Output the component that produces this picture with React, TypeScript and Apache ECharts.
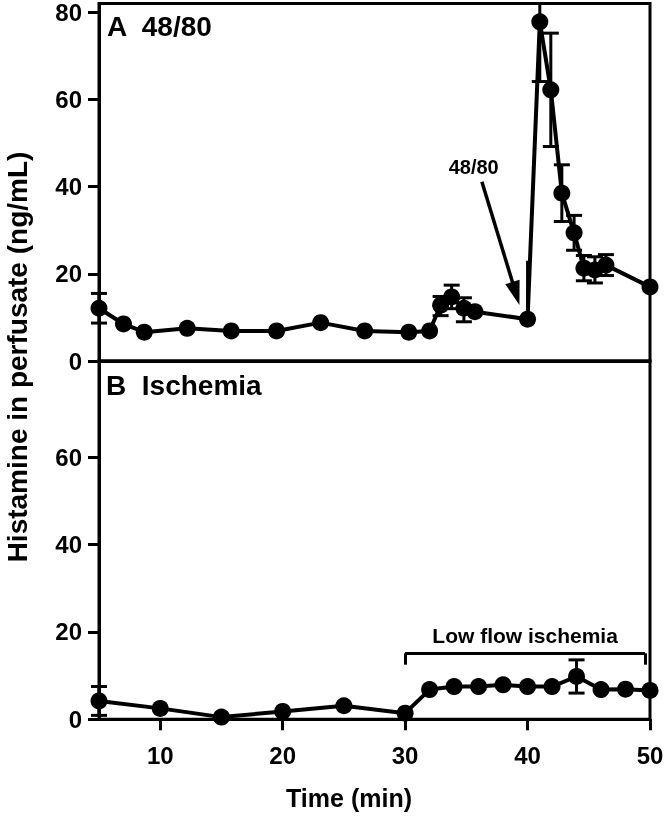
import React, { useEffect, useRef } from "react";
import * as echarts from "echarts";

// Panel A: compound 48/80
const topTimes = [5, 7, 8.7, 12.2, 15.8, 19.5, 23.1, 26.7, 30.3, 32, 32.9, 33.8, 34.8, 35.7, 40, 41, 41.9, 42.8, 43.8, 44.6, 45.5, 46.4, 50];
const topValues = [12.1, 8.5, 6.6, 7.5, 6.9, 6.9, 8.8, 6.9, 6.6, 6.9, 12.8, 14.7, 12.1, 11.3, 9.6, 77.8, 62.2, 38.5, 29.4, 21.3, 20.9, 22, 17];
const topErrUp = [3.4, 0, 0, 0, 0, 0, 0, 0, 0, 0, 2.0, 2.7, 2.4, 0, 13.4, 13.7, 13, 6.5, 4, 2.9, 3, 2.4, 0];
const topErrDown = [3.4, 0, 0, 0, 0, 0, 0, 0, 0, 0, 2.4, 2.7, 3.1, 0, 0, 13.7, 13, 6.5, 4, 2.9, 3, 2.4, 0];
const topUncappedTimes = [40];

// Panel B: ischemia
const bottomTimes = [5, 10, 15, 20, 25, 30, 32, 34, 36, 38, 40, 42, 44, 46, 48, 50];
const bottomValues = [4.2, 2.5, 0.5, 1.8, 3.1, 1.4, 6.8, 7.5, 7.5, 7.9, 7.5, 7.5, 9.8, 6.8, 6.9, 6.6];
const bottomErr = [3.3, 0, 0, 0, 0, 0, 0, 0, 0, 0, 0, 0, 3.8, 0, 0, 0];

const xTicks = [10, 20, 30, 40, 50];
const topYTicks = [0, 20, 40, 60, 80];
const bottomYTicks = [0, 20, 40, 60];

const FONT = "'Liberation Sans', Arial, Helvetica, sans-serif";

function errorBarSeries(xAxisIndex: number, yAxisIndex: number, data: number[][]) {
  return {
    type: "custom",
    xAxisIndex,
    yAxisIndex,
    silent: true,
    z: 1,
    encode: { x: 0, y: 1 },
    data,
    renderItem: (params: any, api: any) => {
      const x = api.value(0);
      const y = api.value(1);
      const up = api.value(2);
      const down = api.value(3);
      const cap = api.value(4);
      const cs = params.coordSys;
      const children: any[] = [];
      if (!up && !down) return { type: "group", children };
      const top = api.coord([x, y + up]);
      const bot = api.coord([x, y - down]);
      const ty = Math.max(top[1], cs.y);
      const by = Math.min(bot[1], cs.y + cs.height);
      const style = { stroke: "#000", lineWidth: 3 };
      children.push({ type: "line", shape: { x1: top[0], y1: ty, x2: top[0], y2: by }, style });
      const hw = 8;
      if (cap) {
        if (up && top[1] >= cs.y) children.push({ type: "line", shape: { x1: top[0] - hw, y1: ty, x2: top[0] + hw, y2: ty }, style });
        if (down && bot[1] <= cs.y + cs.height) children.push({ type: "line", shape: { x1: bot[0] - hw, y1: by, x2: bot[0] + hw, y2: by }, style });
      }
      return { type: "group", children };
    },
  };
}

export default function App() {
  const ref = useRef<HTMLDivElement>(null);
  useEffect(() => {
    if (!ref.current) return;
    const chart = echarts.init(ref.current, null, { renderer: "svg" });
    const labelStyle = { color: "#000", fontSize: 24, fontWeight: "bold", fontFamily: FONT };
    const gridBase = { show: true, borderColor: "#000", borderWidth: 3, backgroundColor: "transparent", containLabel: false };
    const yBase = (ticks: number[]) => ({
      type: "value",
      min: 0,
      max: 82,
      interval: 20,
      axisLine: { show: true, lineStyle: { color: "#000", width: 3 } },
      axisTick: { show: true, length: 11, customValues: ticks, lineStyle: { color: "#000", width: 3 } },
      axisLabel: { ...labelStyle, margin: 17, customValues: ticks },
      splitLine: { show: false },
    });

    const topLine = topTimes.map((t, i) => [t, topValues[i]]);
    const topErr = topTimes.map((t, i) => [t, topValues[i], topErrUp[i], topErrDown[i], topUncappedTimes.includes(t) ? 0 : 1]);
    const bottomLine = bottomTimes.map((t, i) => [t, bottomValues[i]]);
    const bottomErrData = bottomTimes.map((t, i) => [t, bottomValues[i], bottomErr[i], bottomErr[i], 1]);

    const lineStyle = { color: "#000", width: 4 };
    const itemStyle = { color: "#000" };

    chart.setOption({
      animation: false,
      grid: [
        { ...gridBase, left: 99, top: 3.5, width: 551, height: 357.5 },
        { ...gridBase, left: 99, top: 361, width: 551, height: 358.3 },
      ],
      xAxis: [
        {
          type: "value", gridIndex: 0, min: 5, max: 50,
          axisLine: { show: true, lineStyle: { color: "#000", width: 3 } },
          axisTick: { show: false }, axisLabel: { show: false }, splitLine: { show: false },
        },
        {
          type: "value", gridIndex: 1, min: 5, max: 50,
          axisLine: { show: true, lineStyle: { color: "#000", width: 3 } },
          axisTick: { show: true, length: 11, customValues: xTicks, lineStyle: { color: "#000", width: 3 } },
          axisLabel: { ...labelStyle, margin: 24, customValues: xTicks },
          splitLine: { show: false },
        },
      ],
      yAxis: [
        { ...yBase(topYTicks), gridIndex: 0 },
        { ...yBase(bottomYTicks), gridIndex: 1 },
      ],
      graphic: [
        {
          type: "text", left: 107, top: 12, silent: true,
          style: { text: "A  48/80", fill: "#000", font: `bold 28px ${FONT}` },
        },
        {
          type: "text", left: 106, top: 371, silent: true,
          style: { text: "B  Ischemia", fill: "#000", font: `bold 28px ${FONT}` },
        },
        {
          type: "text", x: 349, y: 798, silent: true,
          style: { text: "Time (min)", fill: "#000", font: `bold 25px ${FONT}`, textAlign: "center", textVerticalAlign: "middle" },
        },
        {
          type: "text", x: 17, y: 357, rotation: Math.PI / 2, silent: true,
          style: { text: "Histamine in perfusate (ng/mL)", fill: "#000", font: `bold 28px ${FONT}`, textAlign: "center", textVerticalAlign: "middle" },
        },
      ],
      series: [
        errorBarSeries(0, 0, topErr),
        errorBarSeries(1, 1, bottomErrData),
        {
          type: "line", xAxisIndex: 0, yAxisIndex: 0, data: topLine, clip: false, silent: true,
          symbol: "circle", symbolSize: 17, lineStyle, itemStyle, z: 3,
          markLine: {
            silent: true, animation: false, symbol: ["none", "triangle"],
            lineStyle: { color: "#000", width: 3.5, type: "solid" },
            label: { show: false },
            data: [[
              { coord: [36.27, 41.1], symbol: "none" },
              { coord: [39.05, 15.5], symbol: "triangle", symbolSize: [15, 24] },
            ]],
          },
          markPoint: {
            silent: true, animation: false,
            data: [{
              coord: [35.6, 44.5], symbol: "circle", symbolSize: 0,
              label: { show: true, position: "inside", formatter: "48/80", color: "#000", fontSize: 20, fontWeight: "bold", fontFamily: FONT },
            }],
          },
        },
        {
          type: "line", xAxisIndex: 1, yAxisIndex: 1, data: bottomLine, clip: false, silent: true,
          symbol: "circle", symbolSize: 17, lineStyle, itemStyle, z: 3,
          markLine: {
            silent: true, animation: false, symbol: "none",
            lineStyle: { color: "#000", width: 3, type: "solid" },
            label: { show: false },
            data: [
              [{ coord: [30, 12.5] }, { coord: [30, 15.1] }],
              [{ coord: [30, 15.1] }, { coord: [49.6, 15.1] }],
              [{ coord: [49.6, 15.1] }, { coord: [49.6, 12.5] }],
            ],
          },
          markPoint: {
            silent: true, animation: false,
            data: [{
              coord: [39.8, 19.2], symbol: "circle", symbolSize: 0,
              label: { show: true, position: "inside", formatter: "Low flow ischemia", color: "#000", fontSize: 21, fontWeight: "bold", fontFamily: FONT },
            }],
          },
        },
      ],
    });
    return () => chart.dispose();
  }, []);
  return <div ref={ref} style={{ position: "fixed", left: 0, top: 0, width: 667, height: 821 }} />;
}
